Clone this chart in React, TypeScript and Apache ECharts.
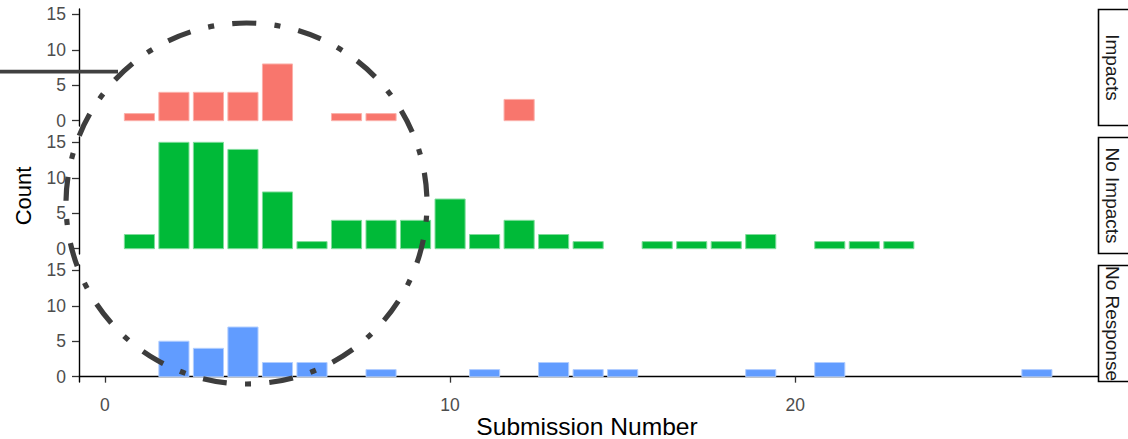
import React, { useEffect, useRef } from "react";
import * as echarts from "echarts";

// Submission numbers (bins) and counts per facet
const submissions = [1, 2, 3, 4, 5, 6, 7, 8, 9, 10, 11, 12, 13, 14, 15, 16, 17, 18, 19, 20, 21, 22, 23, 24, 25, 26, 27];
const impacts = [1, 4, 4, 4, 8, 0, 1, 1, 0, 0, 0, 3, 0, 0, 0, 0, 0, 0, 0, 0, 0, 0, 0, 0, 0, 0, 0];
const noImpacts = [2, 15, 15, 14, 8, 1, 4, 4, 4, 7, 2, 4, 2, 1, 0, 1, 1, 1, 2, 0, 1, 1, 1, 0, 0, 0, 0];
const noResponse = [0, 5, 4, 7, 2, 2, 0, 1, 0, 0, 1, 0, 2, 1, 1, 0, 0, 0, 1, 0, 2, 0, 0, 0, 0, 0, 1];

const facetLabels = ["Impacts", "No Impacts", "No Response"];
const facetColors = ["#F8766D", "#00BA38", "#619CFF"];
const facetStrokes = ["#FBB0AA", "#7FDC9B", "#B0CDFF"];
const yTicks = [0, 5, 10, 15];
const xTicks = [0, 10, 20];
const xTitle = "Submission Number";
const yTitle = "Count";

const FONT = "'Liberation Sans', Arial, sans-serif";

export default function App() {
  const ref = useRef<HTMLDivElement>(null);

  useEffect(() => {
    document.body.style.margin = "0";
    if (!ref.current) return;
    const chart = echarts.init(ref.current, null, { renderer: "svg" });

    const series = [impacts, noImpacts, noResponse];
    const tops = [9, 137, 265];
    const gridH = 117;
    const left = 79;
    const right = 30;

    const grids = tops.map((t) => ({ left, right, top: t, height: gridH, containLabel: false }));

    const xAxes = tops.map((_, i) => {
      const bottom = i === 2;
      return {
        type: "value",
        gridIndex: i,
        min: -0.75,
        max: 28.77,
        show: bottom,
        splitLine: { show: false },
        axisLine: { show: bottom, lineStyle: { color: "#000", width: 1.4 } },
        axisTick: {
          show: bottom,
          length: 6,
          customValues: xTicks,
          lineStyle: { color: "#333", width: 1.3 },
        },
        axisLabel: {
          show: bottom,
          customValues: xTicks,
          margin: 14,
          fontSize: 17.5,
          fontFamily: FONT,
          color: "#4D4D4D",
        },
      };
    });

    const yAxes = tops.map((_, i) => ({
      type: "value",
      gridIndex: i,
      min: -0.75,
      max: 15.75,
      splitLine: { show: false },
      axisLine: { show: true, onZero: false, lineStyle: { color: "#000", width: 1.4 } },
      axisTick: { show: true, length: 7, customValues: yTicks, lineStyle: { color: "#333", width: 1.3 } },
      axisLabel: {
        show: true,
        customValues: yTicks,
        margin: 13,
        fontSize: 17.5,
        fontFamily: FONT,
        color: "#4D4D4D",
      },
    }));

    const customSeries = series.map((vals, i) => ({
      type: "custom",
      name: facetLabels[i],
      xAxisIndex: i,
      yAxisIndex: i,
      encode: { x: 0, y: 1 },
      data: submissions
        .map((s, k) => [s, vals[k]])
        .filter((d) => d[1] > 0),
      renderItem: (params: any, api: any) => {
        const x = api.value(0);
        const y = api.value(1);
        const p0 = api.coord([x - 0.5, y]);
        const p1 = api.coord([x + 0.5, 0]);
        return {
          type: "rect",
          shape: {
            x: p0[0] + 2.2,
            y: p0[1],
            width: p1[0] - p0[0] - 4.4,
            height: p1[1] - p0[1],
          },
          style: { fill: facetColors[i], stroke: facetStrokes[i], lineWidth: 1 },
        };
      },
    }));

    const graphics: any[] = [];
    tops.forEach((t, i) => {
      graphics.push({
        type: "rect",
        z: 50,
        shape: { x: 1098.5, y: t + 0.5, width: 40, height: gridH - 1 },
        style: { fill: "#fff", stroke: "#000", lineWidth: 1.6 },
      });
      graphics.push({
        type: "text",
        z: 51,
        x: 1112,
        y: t + gridH / 2,
        rotation: -Math.PI / 2,
        style: {
          text: facetLabels[i],
          fontSize: 19,
          fontFamily: FONT,
          fill: "#1A1A1A",
          align: "center",
          verticalAlign: "middle",
        },
      });
    });
    graphics.push({
      type: "text",
      z: 51,
      x: 587,
      y: 427,
      scaleX: 1.07,
      style: {
        text: xTitle,
        fontSize: 23,
        fontFamily: FONT,
        fill: "#000",
        align: "center",
        verticalAlign: "middle",
      },
    });
    graphics.push({
      type: "text",
      z: 51,
      x: 23,
      y: 196,
      rotation: Math.PI / 2,
      style: {
        text: yTitle,
        fontSize: 22,
        fontFamily: FONT,
        fill: "#000",
        align: "center",
        verticalAlign: "middle",
      },
    });
    graphics.push({
      type: "line",
      z: 60,
      shape: { x1: 0, y1: 71.7, x2: 118, y2: 71.7 },
      style: { stroke: "#404040", lineWidth: 3.8 },
    });
    graphics.push({
      type: "circle",
      z: 60,
      shape: { cx: 246.5, cy: 203.5, r: 180.5 },
      style: {
        fill: "none",
        stroke: "#3D3D3D",
        lineWidth: 5.2,
        lineDash: [24, 18.3, 6, 18.3],
        lineDashOffset: 29.9,
        lineCap: "butt",
      },
    });

    chart.setOption({
      animation: false,
      backgroundColor: "#fff",
      grid: grids,
      xAxis: xAxes,
      yAxis: yAxes,
      series: customSeries,
      graphic: graphics,
    });

    return () => chart.dispose();
  }, []);

  return (
    <div
      ref={ref}
      style={{ position: "absolute", left: 0, top: 0, width: 1128, height: 439 }}
    />
  );
}
